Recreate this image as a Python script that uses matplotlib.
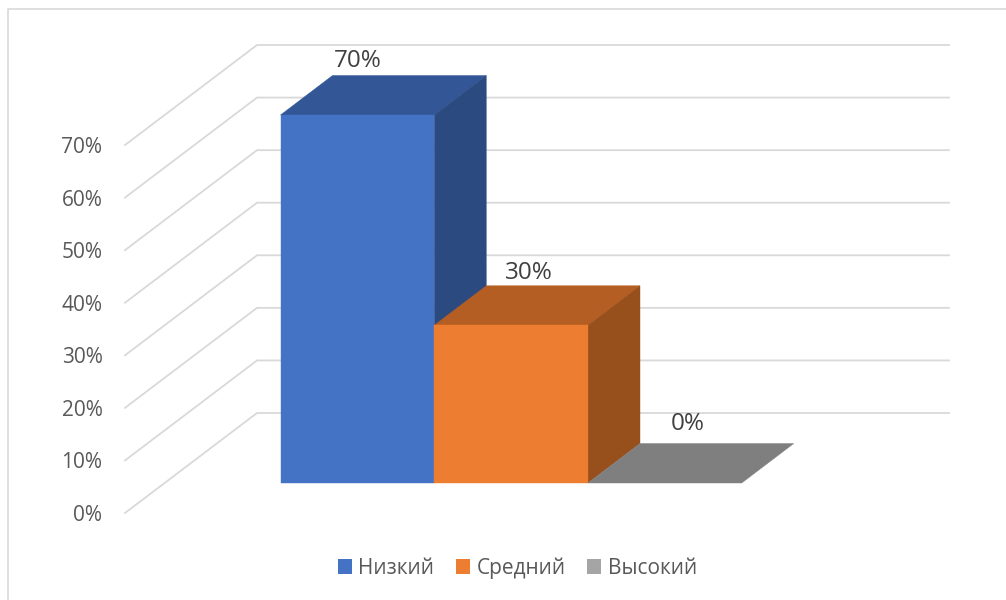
import matplotlib
matplotlib.use("Agg")
import matplotlib.pyplot as plt
from matplotlib.patches import Polygon, Patch
from matplotlib.lines import Line2D

categories = ["Низкий", "Средний", "Высокий"]
values = [70, 30, 0]
labels = ["70%", "30%", "0%"]
ticks = [0, 10, 20, 30, 40, 50, 60, 70]

front = ["#4472C4", "#ED7D31", "#A5A5A5"]
top = ["#335696", "#B45E23", "#7F7F7F"]
side = ["#2B4A80", "#974F1B", "#6E6E6E"]
label_off = [(0, 18), (18, 16), (23, 23)]

W, H = 1006, 600
PX_X, PX_Y = 153.75, 5.257      # pixels per category / per percent
X0, Y0 = 280.5, 483.0           # pixel position of the baseline origin
DX, DY = 52.0 / PX_X, 39.5 / PX_Y  # bar depth in data units

plt.rcParams["font.family"] = ["Open Sans", "DejaVu Sans"]
fig = plt.figure(figsize=(W / 100, H / 100), dpi=100, facecolor="white")
ax = fig.add_axes([0, 0, 1, 1])
ax.set_xlim(-X0 / PX_X, (W - X0) / PX_X)
ax.set_ylim((Y0 - H) / PX_Y, Y0 / PX_Y)
ax.axis("off")

def px(x, y):
    return (x - X0) / PX_X, (Y0 - y) / PX_Y

# outer frame of the chart area
ax.add_line(Line2D(*zip(px(8, 600), px(8, 9.5), px(1006, 9.5)), color="#D9D9D9", lw=1.2, zorder=1))

# gridlines: slanted floor segment then back wall
gx0, gx1, gx2 = px(125, 0)[0], px(257, 0)[0], px(949, 0)[0]
front_base, back_base = px(0, 513)[1], px(0, 413)[1]
for t in ticks:
    ax.plot([gx0, gx1, gx2], [front_base + t, back_base + t, back_base + t],
            color="#D9D9D9", lw=1.3, zorder=1, solid_joinstyle="miter")
    ax.text(px(102.5, 0)[0], front_base + t, f"{t}%", ha="right", va="center_baseline",
            fontsize=15, color="#595959")

# bars
for i, v in enumerate(values):
    ax.add_patch(Polygon([(i, v), (i + 1, v), (i + 1 + DX, v + DY), (i + DX, v + DY)],
                         closed=True, fc=top[i], ec=top[i], lw=0.3, zorder=3 + i))
    if v > 0:
        ax.add_patch(Polygon([(i + 1, 0), (i + 1 + DX, DY), (i + 1 + DX, v + DY), (i + 1, v)],
                             closed=True, fc=side[i], ec=side[i], lw=0.3, zorder=3 + i))
        ax.add_patch(Polygon([(i, 0), (i + 1, 0), (i + 1, v), (i, v)],
                             closed=True, fc=front[i], ec=front[i], lw=0.3, zorder=3 + i))
    ox, oy = label_off[i]
    ax.annotate(labels[i], (i + 0.5, v + DY), xytext=(ox * 0.72, oy * 0.72),
                textcoords="offset points", ha="center", va="center_baseline",
                fontsize=17.5, color="#404040", zorder=10)

handles = [Patch(fc=c, ec="none", label=n) for c, n in zip(front, categories)]
ax.legend(handles=handles, ncol=3, loc="center", bbox_to_anchor=(517.5 / W, 1 - 568 / H),
          bbox_transform=fig.transFigure, frameon=False, fontsize=15, labelcolor="#595959",
          handlelength=0.67, handleheight=0.67, handletextpad=0.3, columnspacing=1.05,
          borderpad=0, borderaxespad=0)

fig.savefig("out.png", dpi=100, facecolor="white")
